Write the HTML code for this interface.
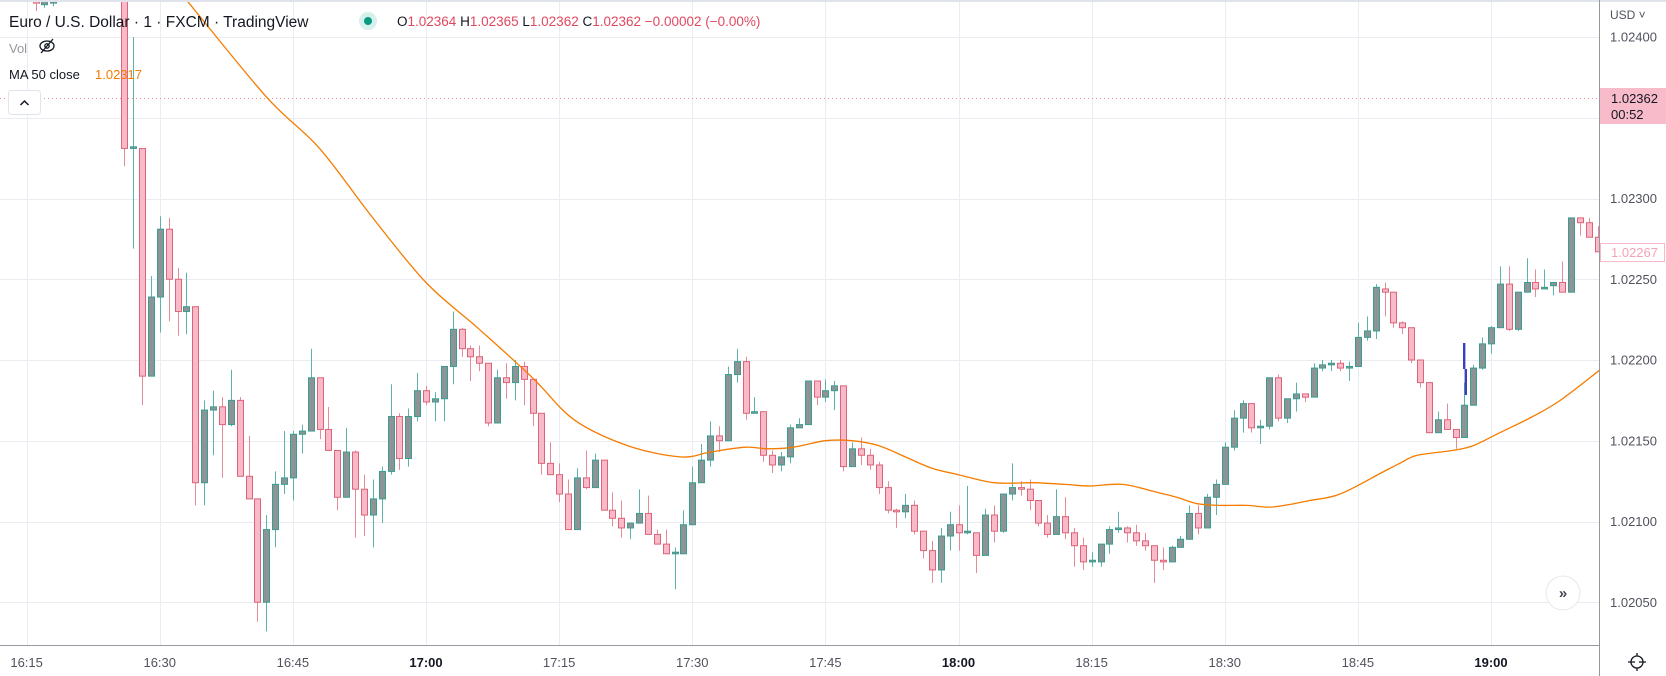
<!DOCTYPE html>
<html><head><meta charset="utf-8"><style>
html,body{margin:0;padding:0;background:#fff;}
#wrap{position:relative;width:1666px;height:676px;overflow:hidden;font-family:"Liberation Sans",sans-serif;}
svg{position:absolute;left:0;top:0;}
</style></head><body>
<div id="wrap">
<svg id="chart" width="1666" height="676">
  <defs><clipPath id="plotclip"><rect x="0" y="2" width="1599" height="643"/></clipPath></defs>
  <g id="grid"></g>
  <line x1="0" y1="98.5" x2="1599" y2="98.5" stroke="#f08aa0" stroke-width="1" stroke-dasharray="1,3"/>
  <g id="candles" clip-path="url(#plotclip)"></g>
  <path id="ma" clip-path="url(#plotclip)" fill="none" stroke="#f57c00" stroke-width="1.3"/>
  <rect x="1463" y="343" width="2.4" height="26" fill="#3a3fbf"/>
  <rect x="1464.6" y="369" width="2.4" height="26" fill="#3a3fbf"/>
  <rect x="0" y="0" width="1666" height="2" fill="#e0e3eb"/>
  <line x1="1599.5" y1="0" x2="1599.5" y2="676" stroke="#9598a1" stroke-width="1"/>
  <line x1="0" y1="645.5" x2="1599" y2="645.5" stroke="#9598a1" stroke-width="1"/>
  <g id="yaxis"></g>
  <g id="xaxis"></g>
  <text x="1610" y="19" font-size="12" fill="#50535e">USD ˅</text>
  <g>
    <rect x="1600" y="88" width="66" height="36" fill="#f8bbca"/>
    <text x="1611" y="103" font-size="13" fill="#131722">1.02362</text>
    <text x="1611" y="119" font-size="13" fill="#131722">00:52</text>
  </g>
  <g>
    <rect x="1600.5" y="243.5" width="64" height="18" fill="#fff" stroke="#f7b9c7"/>
    <text x="1611" y="257" font-size="13" fill="#f3a3b6">1.02267</text>
  </g>
  <g>
    <circle cx="1563" cy="593" r="17" fill="#fff" stroke="#e6e8ee"/>
    <text x="1563" y="598" font-size="15" font-weight="bold" text-anchor="middle" fill="#434651">»</text>
  </g>
  <g transform="translate(1637,662)">
    <circle r="6" fill="none" stroke="#131722" stroke-width="1.3"/>
    <line x1="-9" y1="0" x2="9" y2="0" stroke="#131722" stroke-width="1.3"/>
    <line x1="0" y1="-9" x2="0" y2="-6" stroke="#131722" stroke-width="1.3"/>
    <line x1="0" y1="6" x2="0" y2="9" stroke="#131722" stroke-width="1.3"/>
    <circle r="2" fill="#fff"/>
  </g>
  <g>
    <text x="9" y="27" font-size="15.5" fill="#131722">Euro / U.S. Dollar · 1 · FXCM · TradingView</text>
    <circle cx="368" cy="21" r="9" fill="#d6f0ec"/>
    <circle cx="368" cy="21" r="4" fill="#089981"/>
    <text x="397" y="26" font-size="13.5" fill="#131722">O<tspan fill="#e0485f">1.02364</tspan> H<tspan fill="#e0485f">1.02365</tspan> L<tspan fill="#e0485f">1.02362</tspan> C<tspan fill="#e0485f">1.02362</tspan> <tspan fill="#e0485f">−0.00002 (−0.00%)</tspan></text>
    <text x="9" y="53" font-size="13" fill="#9598a1">Vol</text>
    <g transform="translate(47,46)" stroke="#131722" fill="none" stroke-width="1.3">
      <ellipse cx="0" cy="0" rx="7" ry="5"/><circle cx="0" cy="0" r="2.2"/><line x1="-6" y1="7" x2="6" y2="-7"/>
    </g>
    <text x="9" y="79" font-size="13" fill="#131722">MA 50 close</text>
    <text x="95" y="79" font-size="13" fill="#f57c00">1.02317</text>
    <g>
      <rect x="8.5" y="90.5" width="32" height="24" rx="3" fill="#fff" stroke="#e0e3eb"/>
      <path d="M20.5 105 L24.5 101 L28.5 105" fill="none" stroke="#131722" stroke-width="1.5"/>
    </g>
  </g>
</svg>
</div>
<script>
// candles: index = minutes since 16:26 (first entry is index -10)
const startIndex = -10;
const opens = [1.02424,1.02420,1.02421,1.02430,1.02440,1.02450,1.02445,1.02452,1.02448,1.02440,
1.02432,1.02331,1.02331,1.02190,1.02239,1.02281,1.02250,1.02230,1.02233,1.02124,1.02169,1.02171,1.02160,1.02175,1.02128,1.02114,1.02050,1.02095,1.02123,1.02127,1.02154,1.02156,1.02189,1.02157,1.02144,1.02115,
1.02143,1.02120,1.02104,1.02114,1.02131,1.02165,1.02139,1.02165,1.02181,1.02174,1.02176,1.02196,1.02219,1.02207,1.02202,1.02198,1.02161,1.02189,1.02186,1.02196,1.02188,1.02167,1.02136,
1.02129,1.02117,1.02095,1.02127,1.02121,1.02138,1.02107,1.02102,1.02096,1.02099,1.02105,1.02092,1.02086,1.02080,1.02080,
1.02098,1.02124,1.02138,1.02153,1.02150,1.02191,1.02199,1.02167,1.02168,1.02141,1.02135,1.02140,1.02158,1.02160,1.02187,
1.02177,1.02181,1.02184,1.02134,1.02145,1.02141,1.02135,1.02121,1.02107,1.02106,1.02110,1.02094,1.02082,1.02070,1.02091,
1.02098,1.02093,1.02093,1.02079,1.02104,1.02094,1.02117,1.02121,1.02120,1.02113,1.02099,1.02092,1.02103,1.02093,1.02085,
1.02075,1.02075,1.02086,1.02095,1.02096,1.02093,1.02088,1.02085,1.02076,1.02075,1.02084,1.02089,1.02105,1.02096,1.02115,
1.02123,1.02146,1.02164,1.02173,1.02158,1.02159,1.02189,1.02164,1.02176,1.02179,1.02177,1.02195,1.02197,1.02198,1.02195,
1.02196,1.02214,1.02218,1.02244,1.02242,1.02223,1.02220,1.02200,1.02186,1.02155,1.02163,1.02157,1.02152,1.02172,1.02195,
1.02210,1.02220,1.02247,1.02219,1.02242,1.02248,1.02244,1.02246,1.02248,1.02242,1.02288,1.02285,1.02276];
const highs = [1.02426,1.02424,1.02428,1.02445,1.02455,1.02460,1.02458,1.02462,1.02455,1.02445,
1.02440,1.02400,1.02331,1.02252,1.02289,1.02288,1.02257,1.02254,1.02233,1.02175,1.02181,1.02177,1.02194,1.02177,1.02153,1.02114,1.02104,1.02131,1.02156,1.02156,1.02160,1.02207,1.02189,1.02171,1.02144,1.02158,
1.02144,1.02129,1.02126,1.02134,1.02185,1.02167,1.02170,1.02192,1.02184,1.02180,1.02196,1.02230,1.02220,1.02209,1.02209,1.02198,1.02194,1.02198,1.02200,1.02199,1.02188,1.02167,1.02149,
1.02136,1.02126,1.02133,1.02144,1.02142,1.02138,1.02118,1.02113,1.02099,1.02120,1.02116,1.02095,1.02095,1.02084,1.02107,
1.02134,1.02148,1.02162,1.02159,1.02196,1.02207,1.02202,1.02177,1.02168,1.02144,1.02143,1.02160,1.02164,1.02187,1.02187,
1.02188,1.02187,1.02184,1.02149,1.02152,1.02145,1.02137,1.02125,1.02108,1.02117,1.02113,1.02094,1.02088,1.02096,1.02106,
1.02110,1.02122,1.02093,1.02108,1.02110,1.02117,1.02136,1.02125,1.02126,1.02113,1.02104,1.02120,1.02115,1.02096,1.02090,
1.02081,1.02086,1.02097,1.02106,1.02097,1.02098,1.02093,1.02085,1.02084,1.02085,1.02091,1.02110,1.02110,1.02117,1.02126,
1.02149,1.02169,1.02175,1.02173,1.02163,1.02189,1.02191,1.02176,1.02186,1.02179,1.02198,1.02200,1.02200,1.02200,1.02199,
1.02223,1.02227,1.02247,1.02248,1.02242,1.02224,1.02220,1.02200,1.02186,1.02168,1.02173,1.02157,1.02186,1.02197,1.02214,
1.02221,1.02258,1.02258,1.02242,1.02263,1.02256,1.02256,1.02248,1.02261,1.02288,1.02288,1.02288,1.02283];
const lows = [1.02416,1.02418,1.02419,1.02428,1.02435,1.02440,1.02438,1.02440,1.02435,1.02428,
1.02320,1.02269,1.02172,1.02190,1.02217,1.02224,1.02215,1.02216,1.02110,1.02110,1.02141,1.02127,1.02159,1.02128,1.02114,1.02038,1.02032,1.02084,1.02117,1.02113,1.02142,1.02156,1.02151,1.02144,1.02107,1.02115,
1.02090,1.02091,1.02084,1.02099,1.02129,1.02132,1.02134,1.02162,1.02172,1.02162,1.02162,1.02185,1.02202,1.02187,1.02193,1.02159,1.02161,1.02176,1.02175,1.02172,1.02159,1.02129,1.02129,
1.02112,1.02095,1.02095,1.02120,1.02121,1.02107,1.02097,1.02090,1.02089,1.02099,1.02092,1.02086,1.02080,1.02058,1.02080,
1.02098,1.02124,1.02134,1.02143,1.02150,1.02186,1.02163,1.02167,1.02137,1.02130,1.02131,1.02136,1.02158,1.02160,1.02172,
1.02174,1.02169,1.02131,1.02134,1.02135,1.02132,1.02117,1.02105,1.02096,1.02102,1.02092,1.02077,1.02062,1.02062,1.02082,
1.02082,1.02092,1.02068,1.02079,1.02087,1.02093,1.02113,1.02116,1.02107,1.02097,1.02090,1.02092,1.02089,1.02072,1.02070,
1.02072,1.02072,1.02080,1.02093,1.02087,1.02085,1.02082,1.02062,1.02070,1.02075,1.02084,1.02089,1.02092,1.02096,1.02104,
1.02123,1.02144,1.02155,1.02155,1.02148,1.02157,1.02162,1.02161,1.02168,1.02174,1.02177,1.02193,1.02193,1.02193,1.02187,
1.02196,1.02212,1.02213,1.02227,1.02220,1.02216,1.02198,1.02183,1.02155,1.02155,1.02157,1.02145,1.02152,1.02172,1.02194,
1.02204,1.02220,1.02218,1.02218,1.02242,1.02239,1.02244,1.02240,1.02242,1.02242,1.02277,1.02276,1.02267];
const closes = [1.02421,1.02422,1.02424,1.02440,1.02450,1.02445,1.02452,1.02448,1.02440,1.02432,
1.02331,1.02332,1.02190,1.02239,1.02281,1.02250,1.02230,1.02233,1.02124,1.02169,1.02171,1.02160,1.02175,1.02128,1.02114,1.02050,1.02095,1.02123,1.02127,1.02154,1.02156,1.02189,1.02157,1.02144,1.02115,1.02143,
1.02120,1.02104,1.02114,1.02131,1.02165,1.02139,1.02165,1.02181,1.02174,1.02176,1.02196,1.02219,1.02207,1.02202,1.02198,1.02161,1.02189,1.02186,1.02196,1.02188,1.02167,1.02136,1.02129,
1.02117,1.02095,1.02127,1.02121,1.02138,1.02107,1.02102,1.02096,1.02099,1.02105,1.02092,1.02086,1.02080,1.02081,1.02098,
1.02124,1.02138,1.02153,1.02150,1.02191,1.02199,1.02167,1.02168,1.02141,1.02135,1.02140,1.02158,1.02160,1.02187,1.02177,
1.02181,1.02184,1.02134,1.02145,1.02141,1.02135,1.02121,1.02107,1.02106,1.02110,1.02094,1.02082,1.02070,1.02091,1.02098,
1.02093,1.02094,1.02079,1.02104,1.02094,1.02117,1.02121,1.02120,1.02113,1.02099,1.02092,1.02103,1.02093,1.02085,1.02075,
1.02076,1.02086,1.02095,1.02096,1.02093,1.02088,1.02085,1.02076,1.02075,1.02084,1.02089,1.02105,1.02096,1.02115,1.02123,
1.02146,1.02164,1.02173,1.02158,1.02159,1.02189,1.02164,1.02176,1.02179,1.02177,1.02195,1.02197,1.02198,1.02195,1.02196,
1.02214,1.02218,1.02245,1.02242,1.02223,1.02220,1.02200,1.02186,1.02155,1.02163,1.02157,1.02152,1.02172,1.02195,1.02210,
1.02220,1.02247,1.02219,1.02242,1.02248,1.02244,1.02245,1.02248,1.02242,1.02288,1.02285,1.02276,1.02267];
// MA 50 close, sampled: minute index and value
const maIndex = [7,16,22,28,34,40,46,50.7,56.7,62.6,66,70,72.5,75.4,79,82,85,88,91,94,98,102.4,106,108.8,112.5,116.4,118.6,120.9,123.5,126.5,129.4,133.6,137,141.6,143.7,145.7,149.7,152,155,158.7,161.8,166.3];
const maValues = [1.02423,1.02363,1.02331,1.02288,1.02248,1.02219,1.02189,1.02163,1.02147,1.02140,1.02143,1.02146,1.02145,1.02146,1.02150,1.02150,1.02147,1.02140,1.02133,1.02129,1.02124,1.02124,1.02123,1.02122,1.02123,1.02118,1.02115,1.02111,1.02110,1.02110,1.02109,1.02113,1.02117,1.02130,1.02136,1.02141,1.02144,1.02147,1.02155,1.02165,1.02175,1.02194];
const priceTicks = [1.02400,1.02350,1.02300,1.02250,1.02200,1.02150,1.02100,1.02050];
const priceTickLabels = ["1.02400","","1.02300","1.02250","1.02200","1.02150","1.02100","1.02050"];
const timeTickIndex = [-11,4,19,34,49,64,79,94,109,124,139,154];
const timeTickLabels = ["16:15","16:30","16:45","17:00","17:15","17:30","17:45","18:00","18:15","18:30","18:45","19:00"];
const boldTimes = ["17:00","18:00","19:00"];

const NS = "http://www.w3.org/2000/svg";
function yScale(p){ return 37 + (1.024 - p) * 161500; }
function xScale(i){ return 1491 + (i - 154) * 8.875; }
function mk(tag, attrs, parent){ const e=document.createElementNS(NS,tag); for(const k in attrs) e.setAttribute(k,attrs[k]); parent.appendChild(e); return e; }

const grid=document.getElementById('grid');
priceTicks.forEach((p)=>{
  const l=mk('line',{x1:0,x2:1599,y1:Math.round(yScale(p))+0.5,y2:Math.round(yScale(p))+0.5,stroke:'#e9edf2','stroke-width':1},grid);
  
  
});
timeTickIndex.forEach((t)=>{
  const x=Math.round(xScale(t))+0.5;
  const l=mk('line',{x1:x,x2:x,y1:0,y2:645,stroke:'#e9edf2','stroke-width':1},grid);
  
  
});

const yax=document.getElementById('yaxis');
priceTicks.forEach((p,k)=>{
  if(!priceTickLabels[k]) return;
  const t=mk('text',{x:1610,y:yScale(p)+4.5,'font-size':13,fill:'#50535e'},yax);
  t.textContent=priceTickLabels[k];
  
  
});
const xax=document.getElementById('xaxis');
timeTickIndex.forEach((ti,k)=>{
  const t=mk('text',{x:xScale(ti),y:667,'font-size':13,'text-anchor':'middle',fill:boldTimes.includes(timeTickLabels[k])?'#131722':'#50535e','font-weight':boldTimes.includes(timeTickLabels[k])?'bold':'normal'},xax);
  t.textContent=timeTickLabels[k];
  
  
});

const cg=document.getElementById('candles');
opens.forEach((o,k)=>{
  const c=closes[k], h=highs[k], l=lows[k];
  const x=Math.round(xScale(startIndex+k));
  const up=c>=o;
  const g=mk('g',{},cg);
  
  
  mk('line',{x1:x+0.5,x2:x+0.5,y1:yScale(h),y2:yScale(l),stroke:up?'#5db3a9':'#e58b98','stroke-width':1},g);
  const top=yScale(Math.max(o,c)), bot=yScale(Math.min(o,c));
  mk('rect',{x:x-2.5,y:top,width:6,height:Math.max(1.5,bot-top),fill:up?'#8c9496':'#f8bac8',stroke:up?'#3a9d91':'#dc6478','stroke-width':1},g);
});

// smooth MA (Catmull-Rom)
const pts = maIndex.map((t,k)=>[xScale(t), yScale(maValues[k])]);
let d='M'+pts[0][0].toFixed(1)+' '+pts[0][1].toFixed(1);
for(let k=0;k<pts.length-1;k++){
  const p0=pts[Math.max(0,k-1)], p1=pts[k], p2=pts[k+1], p3=pts[Math.min(pts.length-1,k+2)];
  const c1x=p1[0]+(p2[0]-p0[0])/6, c1y=p1[1]+(p2[1]-p0[1])/6;
  const c2x=p2[0]-(p3[0]-p1[0])/6, c2y=p2[1]-(p3[1]-p1[1])/6;
  d+=' C'+c1x.toFixed(1)+' '+c1y.toFixed(1)+' '+c2x.toFixed(1)+' '+c2y.toFixed(1)+' '+p2[0].toFixed(1)+' '+p2[1].toFixed(1);
}
document.getElementById('ma').setAttribute('d',d);
</script>
</body></html>
